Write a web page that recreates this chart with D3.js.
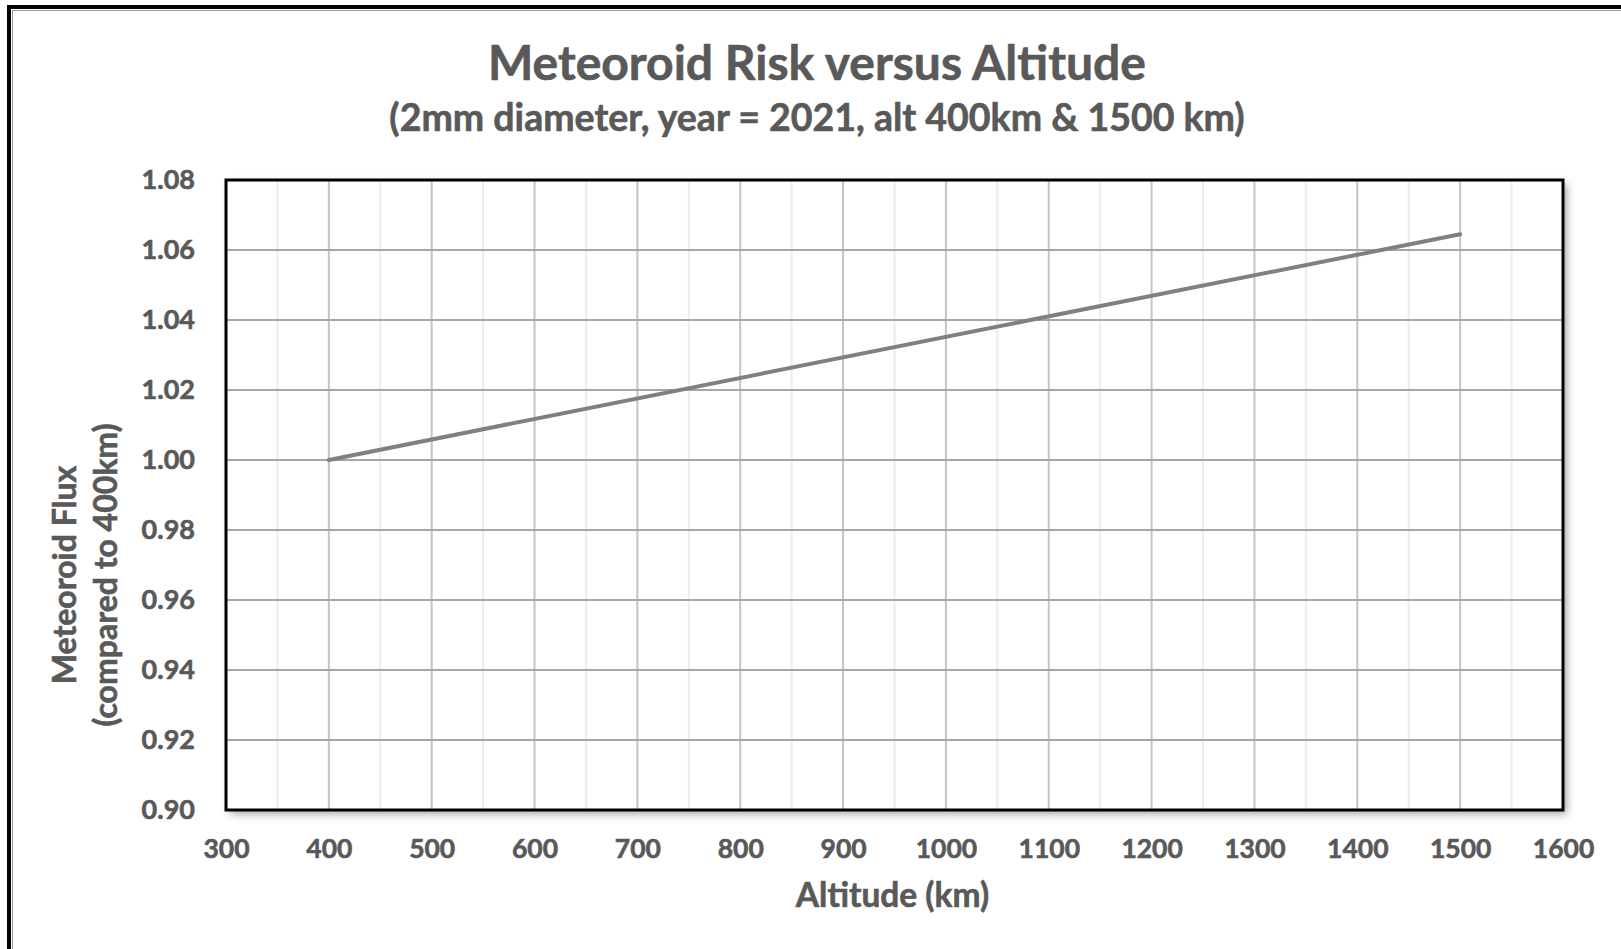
<!DOCTYPE html>
<html>
<head>
<meta charset="utf-8">
<script src="https://cdn.jsdelivr.net/npm/d3@7"></script>
<style>
  body { margin: 0; background: #fff; }
  svg text { font-family: Lato, "Open Sans", sans-serif; font-weight: bold; fill: #595959; stroke: #595959; stroke-width: 0.6px; }
</style>
</head>
<body>
<div id="chart"></div>
<script>
const altitudes = [400, 1500];
const flux = [1.0, 1.0645];
const xTicks = [300, 400, 500, 600, 700, 800, 900, 1000, 1100, 1200, 1300, 1400, 1500, 1600];
const yTicks = [0.90, 0.92, 0.94, 0.96, 0.98, 1.00, 1.02, 1.04, 1.06, 1.08];

const W = 1621, H = 949;
const margin = { left: 226, top: 180, right: 58, bottom: 139 };
const width = W - margin.left - margin.right;
const height = H - margin.top - margin.bottom;

const svg = d3.select('#chart').append('svg').attr('width', W).attr('height', H);

// outer frame (only left/top visible in the reference)
svg.append('rect').attr('x', 9).attr('y', 7).attr('width', W + 20).attr('height', H + 20)
  .attr('fill', 'none').attr('stroke', '#000').attr('stroke-width', 4);
svg.append('rect').attr('x', 12.5).attr('y', 10.5).attr('width', W + 20).attr('height', H + 20)
  .attr('fill', 'none').attr('stroke', '#999').attr('stroke-width', 1);

const defs = svg.append('defs');
const f = defs.append('filter').attr('id', 'shadow').attr('x', '-5%').attr('y', '-5%').attr('width', '110%').attr('height', '110%');
f.append('feDropShadow').attr('dx', 4).attr('dy', 4).attr('stdDeviation', 4).attr('flood-color', '#000').attr('flood-opacity', 0.35);

svg.append('text').attr('x', 817).attr('y', 80).attr('text-anchor', 'middle')
  .style('font-size', '48px').text('Meteoroid Risk versus Altitude');
svg.append('text').attr('x', 817).attr('y', 131).attr('text-anchor', 'middle')
  .style('font-size', '37.5px').text('(2mm diameter, year = 2021, alt 400km & 1500 km)');

const g = svg.append('g').attr('transform', 'translate(' + margin.left + ',' + margin.top + ')');

const x = d3.scaleLinear().domain([300, 1600]).range([0, width]);
const y = d3.scaleLinear().domain([0.90, 1.08]).range([height, 0]);

g.append('rect').attr('width', width).attr('height', height).attr('fill', '#fff')
  .attr('filter', 'url(#shadow)');

// minor vertical gridlines
const minor = d3.range(350, 1600, 100);
g.selectAll('.minor').data(minor).enter().append('line')
  .attr('x1', d => x(d)).attr('x2', d => x(d)).attr('y1', 0).attr('y2', height)
  .attr('stroke', '#ececec').attr('stroke-width', 2);
g.selectAll('.vmajor').data(xTicks.slice(1, -1)).enter().append('line')
  .attr('x1', d => x(d)).attr('x2', d => x(d)).attr('y1', 0).attr('y2', height)
  .attr('stroke', '#c4c4c4').attr('stroke-width', 2);
g.selectAll('.hmajor').data(yTicks.slice(1, -1)).enter().append('line')
  .attr('x1', 0).attr('x2', width).attr('y1', d => y(d)).attr('y2', d => y(d))
  .attr('stroke', '#a6a6a6').attr('stroke-width', 2);

g.append('rect').attr('width', width).attr('height', height).attr('fill', 'none')
  .attr('stroke', '#000').attr('stroke-width', 3);

const line = d3.line().x(d => x(d[0])).y(d => y(d[1]));
g.append('path').datum(altitudes.map((a, i) => [a, flux[i]]))
  .attr('d', line).attr('fill', 'none').attr('stroke', '#808080').attr('stroke-width', 4)
  .attr('stroke-linecap', 'round');

const xAxis = g.append('g').attr('transform', 'translate(0,' + height + ')')
  .call(d3.axisBottom(x).tickValues(xTicks).tickFormat(d3.format('d')).tickSize(0).tickPadding(29));
xAxis.select('.domain').remove();
xAxis.selectAll('text').style('font-size', '26.5px').attr('fill', null);

const yAxis = g.append('g')
  .call(d3.axisLeft(y).tickValues(yTicks).tickFormat(d3.format('.2f')).tickSize(0).tickPadding(31));
yAxis.select('.domain').remove();
yAxis.selectAll('text').style('font-size', '27px').attr('fill', null);

svg.append('text').attr('x', margin.left + width / 2 - 2).attr('y', 907).attr('text-anchor', 'middle')
  .style('font-size', '33.5px').text('Altitude (km)');

const yt = svg.append('text').attr('transform', 'translate(0,575) rotate(-90)')
  .attr('text-anchor', 'middle').style('font-size', '32px');
yt.append('tspan').attr('x', 0).attr('y', 76).text('Meteoroid Flux');
yt.append('tspan').attr('x', 0).attr('y', 117).text('(compared to 400km)');
</script>
</body>
</html>
